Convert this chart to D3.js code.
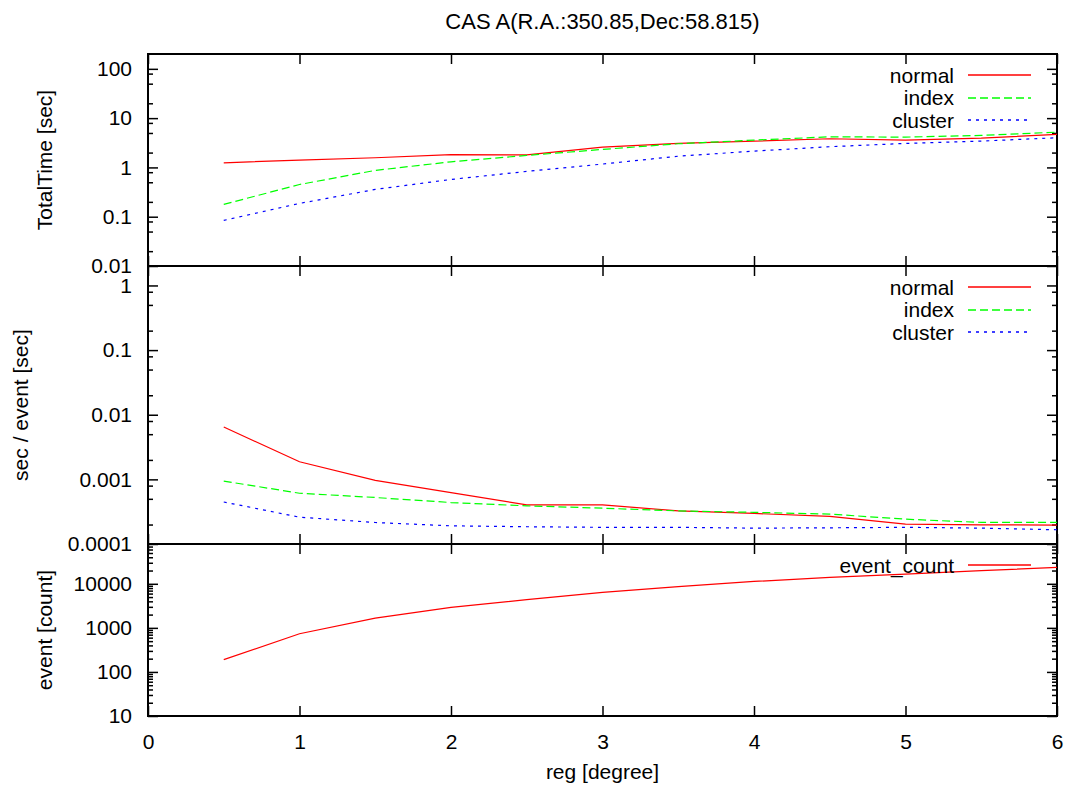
<!DOCTYPE html>
<html>
<head>
<meta charset="utf-8">
<script src="https://cdn.jsdelivr.net/npm/d3@7"></script>
<style>
  body { margin: 0; background: #fff; }
  svg { font-family: "Liberation Sans", Arial, sans-serif; }
</style>
</head>
<body>
<svg id="chart" width="1075" height="787"></svg>
<script>
// reg [degree]
const reg = [0.5, 1, 1.5, 2, 2.5, 3, 3.5, 4, 4.5, 5, 5.5, 6]

// total time [sec]
const totalNormal = [1.24, 1.41, 1.57, 1.81, 1.8, 2.58, 3.07, 3.42, 3.82, 3.58, 3.93, 4.67]
const totalIndex = [0.178, 0.45, 0.87, 1.3, 1.75, 2.32, 3.02, 3.58, 4.18, 4.12, 4.46, 5.2]
const totalCluster = [0.084, 0.186, 0.358, 0.57, 0.83, 1.17, 1.69, 2.14, 2.63, 3.07, 3.42, 4.0]

// sec / event [sec]
const perNormal = [0.00646, 0.00187, 0.000966, 0.000624, 0.000403, 0.000403, 0.000325, 0.000297, 0.000267, 0.000203, 0.000198, 0.000196]
const perIndex = [0.000941, 0.00061, 0.000524, 0.000438, 0.000389, 0.000358, 0.000325, 0.000309, 0.00029, 0.000242, 0.000216, 0.000216]
const perCluster = [0.000447, 0.00026, 0.000215, 0.000191, 0.000185, 0.000181, 0.000181, 0.000176, 0.000178, 0.000181, 0.000176, 0.000166]

// event [count]
const eventCount = [190, 736, 1660, 2930, 4370, 6400, 8600, 11300, 13960, 16600, 19800, 23500]

// tick labels
const xTicks = [0, 1, 2, 3, 4, 5, 6]
const topTicks = [0.01, 0.1, 1, 10, 100]
const midTicks = [0.0001, 0.001, 0.01, 0.1, 1]
const botTicks = [10, 100, 1000, 10000]

const svg = d3.select('#chart')
const left = 148, right = 1057
const fs = 21

const x = d3.scaleLinear().domain([0, 6]).range([left, right])

const panels = [
  {
    top: 54, bottom: 266, domain: [0.01, 200], ticks: topTicks, minors: [2, 5, 8],
    label: 'TotalTime [sec]', labelX: 44,
    series: [
      { name: 'normal', values: totalNormal, color: '#ff0000', dash: null },
      { name: 'index', values: totalIndex, color: '#00ff00', dash: '8,4' },
      { name: 'cluster', values: totalCluster, color: '#0000ff', dash: '3,5' }
    ],
    legendY: 75
  },
  {
    top: 266, bottom: 544, domain: [0.0001, 2], ticks: midTicks, minors: [2, 5, 8],
    label: 'sec / event [sec]', labelX: 20,
    series: [
      { name: 'normal', values: perNormal, color: '#ff0000', dash: null },
      { name: 'index', values: perIndex, color: '#00ff00', dash: '8,4' },
      { name: 'cluster', values: perCluster, color: '#0000ff', dash: '3,5' }
    ],
    legendY: 287
  },
  {
    top: 544, bottom: 716, domain: [10, 80000], ticks: botTicks, minors: [2, 3, 4, 5, 6, 7, 8, 9],
    label: 'event [count]', labelX: 44,
    series: [
      { name: 'event_count', values: eventCount, color: '#ff0000', dash: null }
    ],
    legendY: 565
  }
]

panels.forEach((p, i) => {
  const y = d3.scaleLog().domain(p.domain).range([p.bottom, p.top])
  const g = svg.append('g')

  // minor tick values inside domain
  const minorVals = []
  for (let e = -5; e <= 5; e++) {
    p.minors.forEach(m => {
      const v = m * Math.pow(10, e)
      if (v > p.domain[0] && v < p.domain[1]) minorVals.push(v)
    })
  }

  // y axis left, major
  g.append('g')
    .attr('transform', `translate(${left},0)`)
    .call(d3.axisLeft(y).tickValues(p.ticks).tickSize(-10).tickPadding(16)
      .tickFormat(d => String(+d.toPrecision(1))))
    .call(a => a.select('.domain').remove())
    .call(a => a.selectAll('text').style('font-size', fs + 'px').attr('fill', '#000'))
    .call(a => a.selectAll('line').attr('stroke-width', 1.5))

  // y axis left, minor
  g.append('g')
    .attr('transform', `translate(${left},0)`)
    .call(d3.axisLeft(y).tickValues(minorVals).tickSize(-5).tickFormat(''))
    .call(a => a.select('.domain').remove())
    .call(a => a.selectAll('line').attr('stroke-width', 1.5))

  // y axis right (mirror)
  g.append('g')
    .attr('transform', `translate(${right},0)`)
    .call(d3.axisRight(y).tickValues(p.ticks).tickSize(-10).tickFormat(''))
    .call(a => a.select('.domain').remove())
    .call(a => a.selectAll('line').attr('stroke-width', 1.5))
  g.append('g')
    .attr('transform', `translate(${right},0)`)
    .call(d3.axisRight(y).tickValues(minorVals).tickSize(-5).tickFormat(''))
    .call(a => a.select('.domain').remove())
    .call(a => a.selectAll('line').attr('stroke-width', 1.5))

  // x ticks bottom and top
  g.append('g')
    .attr('transform', `translate(0,${p.bottom})`)
    .call(d3.axisBottom(x).tickValues(xTicks).tickSize(-10).tickPadding(18)
      .tickFormat(i === panels.length - 1 ? d3.format('d') : ''))
    .call(a => a.select('.domain').remove())
    .call(a => a.selectAll('line').attr('stroke-width', 1.5))
    .call(a => a.selectAll('text').style('font-size', fs + 'px').attr('fill', '#000'))
  g.append('g')
    .attr('transform', `translate(0,${p.top})`)
    .call(d3.axisTop(x).tickValues(xTicks).tickSize(-10).tickFormat(''))
    .call(a => a.select('.domain').remove())
    .call(a => a.selectAll('line').attr('stroke-width', 1.5))

  // border
  g.append('rect')
    .attr('x', left).attr('y', p.top)
    .attr('width', right - left).attr('height', p.bottom - p.top)
    .attr('fill', 'none').attr('stroke', '#000').attr('stroke-width', 2)

  // y label
  g.append('text')
    .attr('transform', `translate(${p.labelX},${(p.top + p.bottom) / 2}) rotate(-90)`)
    .attr('text-anchor', 'middle')
    .attr('dominant-baseline', 'central')
    .style('font-size', fs + 'px')
    .text(p.label)

  // lines
  const line = d3.line().x((d, k) => x(reg[k])).y(d => y(d))
  p.series.forEach((s, k) => {
    g.append('path')
      .datum(s.values)
      .attr('d', line)
      .attr('fill', 'none')
      .attr('stroke', s.color)
      .attr('stroke-width', 1.2)
      .attr('stroke-dasharray', s.dash)

    // legend
    const ly = p.legendY + k * 22.5
    g.append('text')
      .attr('x', 954).attr('y', ly)
      .attr('text-anchor', 'end')
      .attr('dominant-baseline', 'central')
      .style('font-size', fs + 'px')
      .text(s.name)
    g.append('line')
      .attr('x1', 968).attr('x2', 1031)
      .attr('y1', Math.round(ly)).attr('y2', Math.round(ly))
      .attr('stroke', s.color)
      .attr('stroke-width', 1.3)
      .attr('stroke-dasharray', s.dash)
  })
})

// title
svg.append('text')
  .attr('x', (left + right) / 2).attr('y', 29)
  .attr('text-anchor', 'middle')
  .style('font-size', '22px')
  .text('CAS A(R.A.:350.85,Dec:58.815)')

// x label
svg.append('text')
  .attr('x', (left + right) / 2).attr('y', 779)
  .attr('text-anchor', 'middle')
  .style('font-size', fs + 'px')
  .text('reg [degree]')
</script>
</body>
</html>
